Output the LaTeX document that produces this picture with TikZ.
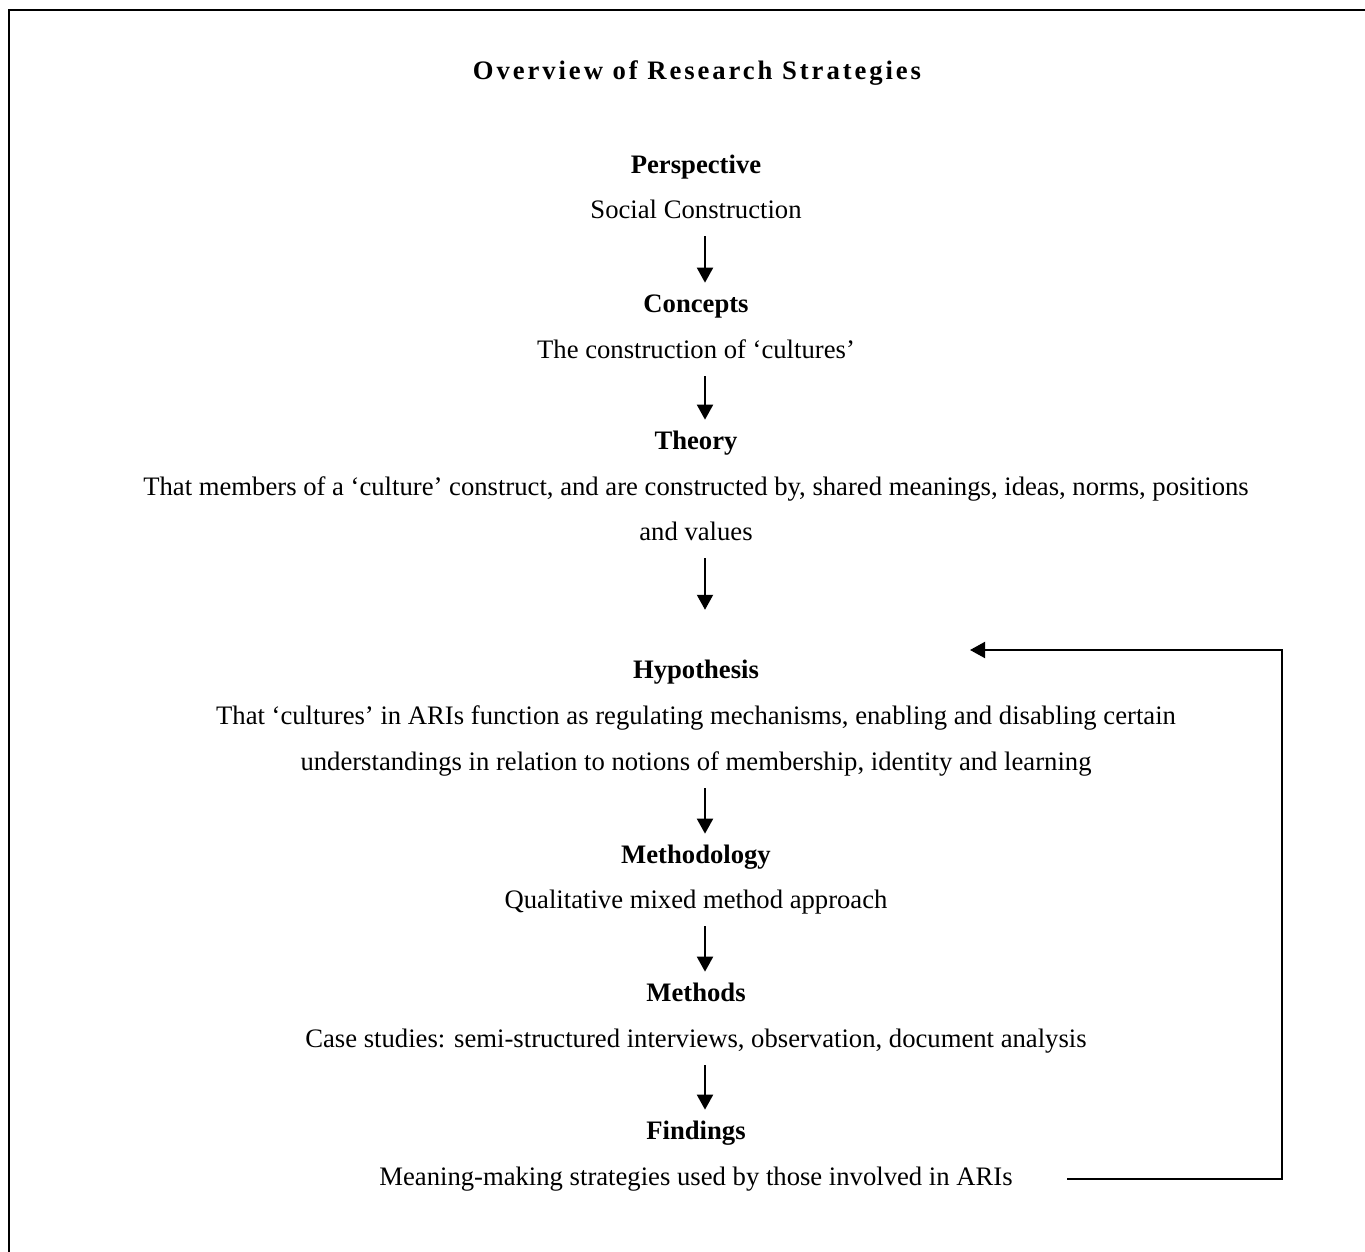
\documentclass[tikz,border=0pt]{standalone}
\usepackage{fontspec}
\setmainfont{Liberation Serif}
\usetikzlibrary{arrows.meta}
\tikzstyle{hd}=[anchor=base, inner sep=0pt, text height=8pt, text depth=3pt, font=\fontsize{12}{14}\selectfont\bfseries]
\tikzstyle{tx}=[anchor=base, inner sep=0pt, text height=8pt, text depth=3pt, font=\fontsize{12}{14}\selectfont]
\tikzstyle{flow}=[line width=0.9pt, -{Triangle[length=6.75pt,width=7.2pt]}, shorten <=5pt, shorten >=5pt]
\tikzstyle{back}=[line width=0.9pt, -{Triangle[length=6.75pt,width=7.2pt]}]
\newcommand{\hd}{\node[hd]}
\newcommand{\tx}{\node[tx]}

\begin{document}
\begin{tikzpicture}[x=0.45pt, y=-0.45pt]
\useasboundingbox (0,0) rectangle (1365,1252);
% frame, only top and left edges show
\draw[line width=0.9pt] (9,1252) -- (9,10) -- (1365,10);
\node[anchor=base, inner sep=0pt, font=\fontsize{12}{14}\selectfont\bfseries\addfontfeature{LetterSpace=11}] (title) at (697,80) {Overview of Research Strategies};
\hd (persp) at (696,173) {Perspective};
\tx (soc) at (696,218) {Social Construction};
\hd (conc) at (696,312) {Concepts};
\tx (cons) at (696,358) {The construction of ‘cultures’};
\hd (theo) at (696,449) {Theory};
\tx (theoa) at (696,495) {That members of a ‘culture’ construct, and are constructed by, shared meanings, ideas, norms, positions};
\tx (theob) at (696,540) {and values};
\hd (hypo) at (696,678) {Hypothesis};
\tx (hypoa) at (696,724) {That ‘cultures’ in ARIs function as regulating mechanisms, enabling and disabling certain};
\tx (hypob) at (696,770) {understandings in relation to notions of membership, identity and learning};
\hd (meth) at (696,863) {Methodology};
\tx (metha) at (696,908) {Qualitative mixed method approach};
\hd (mtds) at (696,1001) {Methods};
\tx (mtdsa) at (696,1047) {Case studies: semi-structured interviews, observation, document analysis};
\hd (find) at (696,1139) {Findings};
\tx (finda) at (696,1185) {Meaning-making strategies used by those involved in ARIs};
\coordinate (ax) at (705,0);
\coordinate (fbtop) at (1282,650);
\coordinate (fbtip) at (970,650);
\draw[flow] (soc.south -| ax) -- (conc.north -| ax);
\draw[flow] (cons.south -| ax) -- (theo.north -| ax);
\draw[flow, shorten >=22.5pt] (theob.south -| ax) -- (hypo.north -| ax);
\draw[flow] (hypob.south -| ax) -- (meth.north -| ax);
\draw[flow] (metha.south -| ax) -- (mtds.north -| ax);
\draw[flow] (mtdsa.south -| ax) -- (find.north -| ax);
\draw[back] ([xshift=24.3pt]finda.east) -| (fbtop) -- (fbtip);
\end{tikzpicture}
\end{document}
